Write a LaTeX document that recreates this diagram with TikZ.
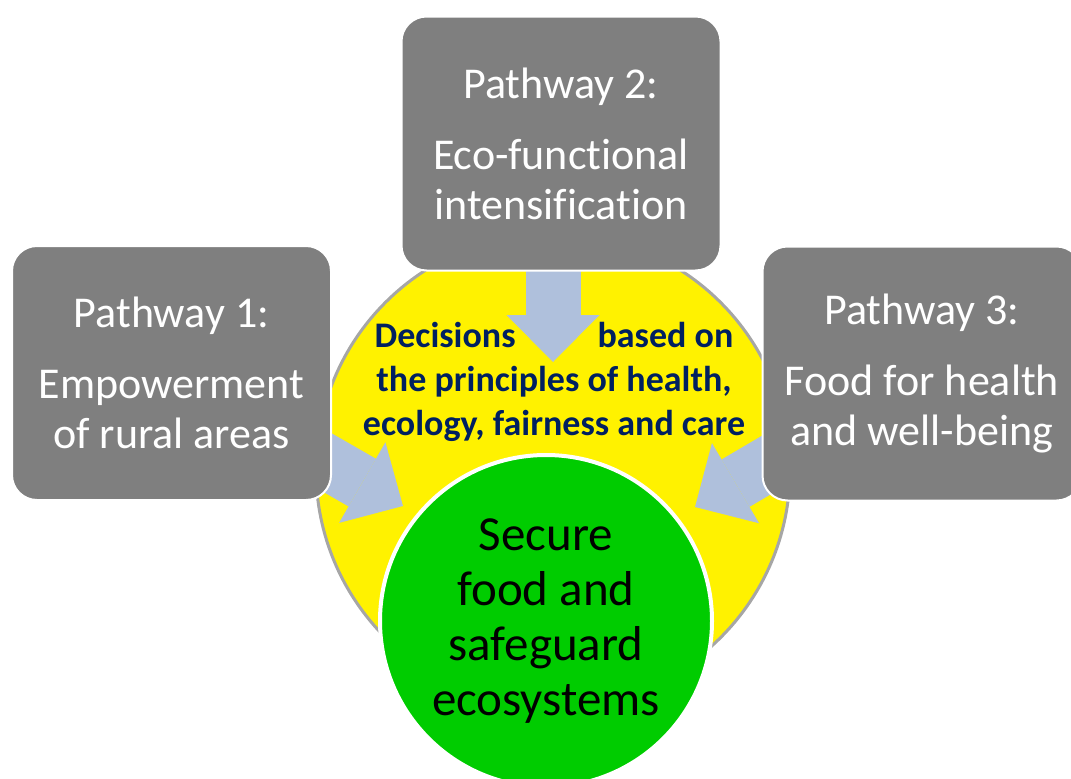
\documentclass[tikz,border=0pt]{standalone}
\usepackage{fontspec}
\setmainfont{Carlito}[RawFeature={-liga;-clig;-calt;-dlig}]
\usepackage{tikz}
\usetikzlibrary{arrows.meta, positioning}
\definecolor{boxGray}{HTML}{7F7F7F}
\definecolor{arrowBlue}{HTML}{AFC0DC}
\definecolor{ringGray}{HTML}{A6A6A6}
\definecolor{leafGreen}{HTML}{00CC00}
\definecolor{textBlue}{HTML}{002060}
\pgfdeclarelayer{ringLayer}
\pgfdeclarelayer{arrowLayer}
\pgfsetlayers{ringLayer,arrowLayer,main}
\tikzstyle{pathBox} = [
                rectangle,
                rounded corners = 25pt,
                minimum width = 319pt,
                minimum height = 254pt,
                fill = boxGray,
                draw = white,
                line width = 2pt,
                text = white,
                align = center,
                font = \fontsize{44}{50}\selectfont
            ]
\tikzstyle{blockArrow} = [line width=55pt, draw=arrowBlue, -{Triangle[width=93pt,length=47pt,line width=0pt]}]
\tikzstyle{ringNode} = [circle, minimum size = 474pt, fill=yellow, draw=ringGray, line width=3pt]
\tikzstyle{coreNode} = [circle, minimum size = 332pt, fill=leafGreen, draw=white, line width=4pt, align=center, font=\fontsize{49}{55}\selectfont]
\tikzstyle{ruleText} = [align=center, text=textBlue, font=\bfseries\fontsize{36}{44}\selectfont]

\begin{document}
\begin{tikzpicture}[x = 1pt, y = -1pt]
                            \useasboundingbox (0,0) rectangle (1071,779);
                            \node (box1) [pathBox] at (171.5,373) {Pathway 1:\\[21pt]Empowerment\\of rural areas};
                            \node (box2) [pathBox] at (561,143.5) {Pathway 2:\\[21pt]Eco-functional\\intensification};
                            \node (box3) [pathBox] at (922,373.5) {Pathway 3:\\[21pt]Food for health\\and well-being};
                            \coordinate (tip1) at (403,506);
                            \coordinate (tip2) at (553,362);
                            \coordinate (tip3) at (695,507);
                            \begin{pgfonlayer}{ringLayer}
                            \node (ring) [ringNode] at (553,470) {};
                            \end{pgfonlayer}
                            \begin{pgfonlayer}{arrowLayer}
                            \draw [blockArrow] (box1.center) -- (tip1);
                            \draw [blockArrow] (tip2 |- box2.center) -- (tip2);
                            \draw [blockArrow] (box3.center) -- (tip3);
                            \end{pgfonlayer}
                            \node (rules) [ruleText] at (554,382) {Decisions\hspace{82pt}based on\\the principles of health,\\ecology, fairness and care};
                            \node (core) [coreNode] at (546,621) {Secure\\food and\\safeguard\\ecosystems};
                        \end{tikzpicture}
\end{document}
